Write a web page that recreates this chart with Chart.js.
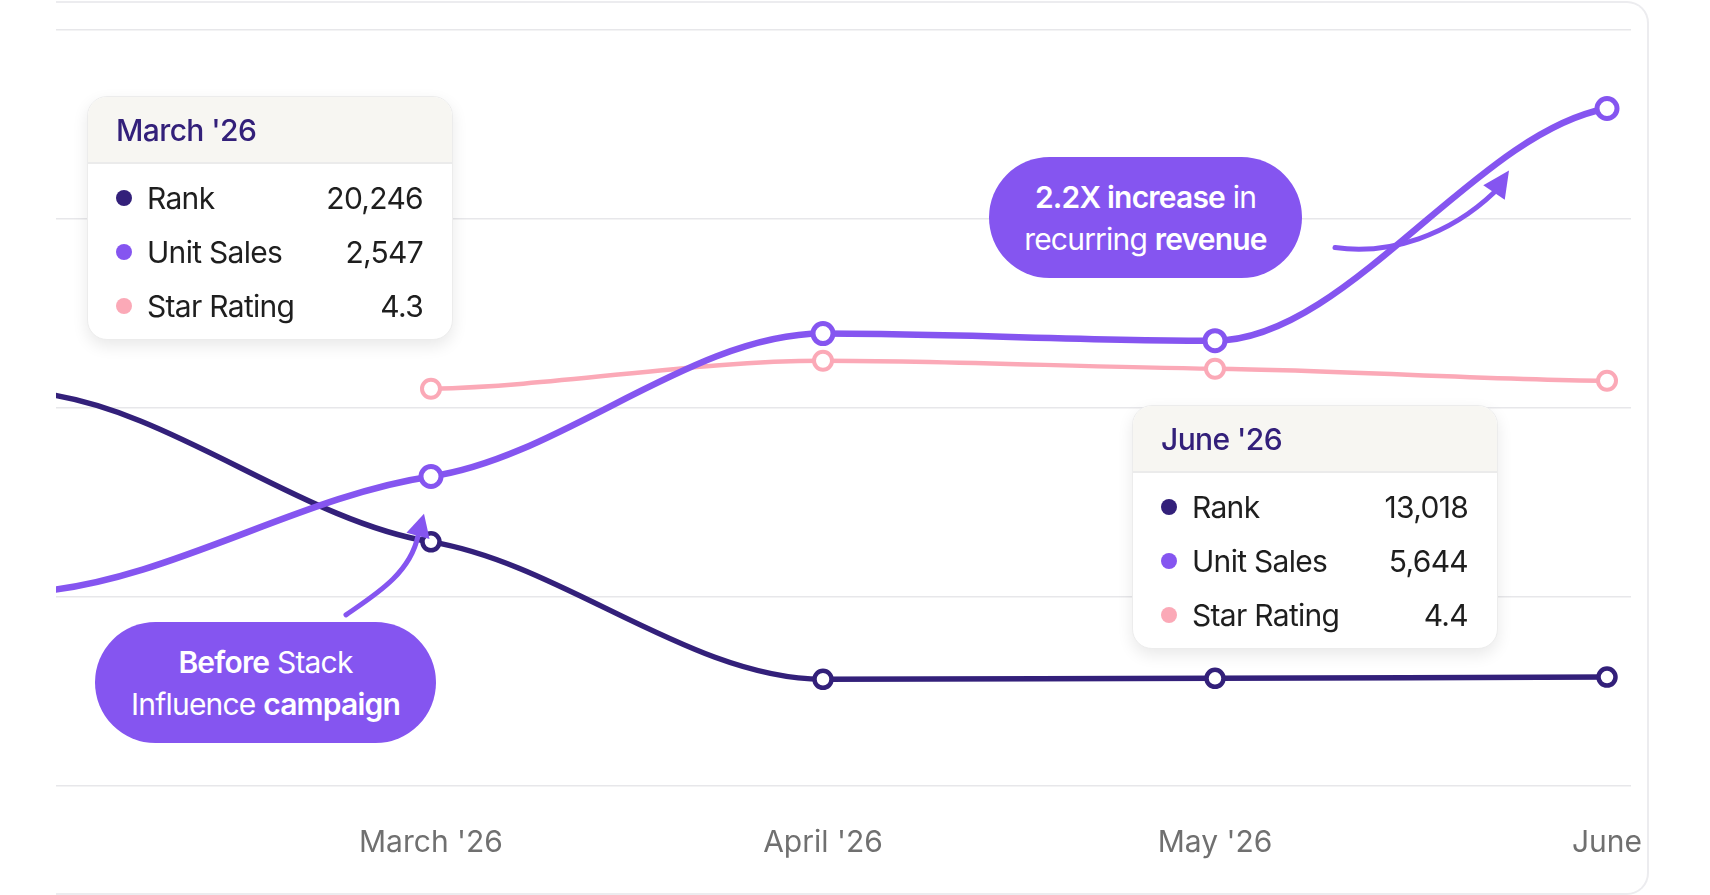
<!DOCTYPE html>
<html>
<head>
<meta charset="utf-8">
<script src="https://cdn.jsdelivr.net/npm/chart.js@4.4.1/dist/chart.umd.min.js"></script>
<style>
  html, body { margin: 0; padding: 0; width: 1710px; height: 895px; overflow: hidden; background: #fff; font-family: Inter, "Noto Sans", sans-serif; }
  .card { position: absolute; left: 56px; top: 1px; width: 1591px; height: 890px; border: 2px solid #ececef; border-left: none; border-radius: 0 22px 22px 0; }
  .clip { position: absolute; left: 56px; top: 0; width: 1592px; height: 895px; overflow: hidden; }
  #chart { position: absolute; left: 0; top: 0; }
  .tip { position: absolute; width: 366px; height: 244px; box-sizing: border-box; background: #fff; border: 1px solid #ececec; border-radius: 20px; box-shadow: 0 6px 16px rgba(0,0,0,0.09); overflow: hidden; }
  .tip-head { height: 67px; line-height: 67px; padding-left: 28px; background: #f7f6f2; border-bottom: 2px solid #ebebeb; color: #33207a; font-size: 30px; font-weight: 500; letter-spacing: -0.6px; box-sizing: border-box; }
  .tip-body { padding: 7px 29px 0 28px; }
  .row { display: flex; align-items: center; height: 54px; font-size: 30px; color: #1e1e1e; letter-spacing: -0.7px; }
  .dot { width: 16px; height: 16px; border-radius: 50%; margin-right: 15px; flex: none; }
  .row .val { margin-left: auto; }
  .pill { position: absolute; background: #8555f0; color: #fff; font-size: 30px; line-height: 42px; letter-spacing: -0.8px; text-align: center; display: flex; flex-direction: column; justify-content: center; }
  .pill b { font-weight: 600; }
</style>
</head>
<body>
<div class="card"></div>
<div class="clip"><canvas id="chart" width="1655" height="895"></canvas></div>

<div class="tip" id="tipMarch" style="left:87px; top:96px;"></div>
<div class="tip" id="tipJune" style="left:1132px; top:405px;"></div>

<div class="pill" style="left:95px; top:622px; width:341px; height:121px; border-radius:61px;">
  <div><b>Before</b> Stack</div>
  <div>Influence <b>campaign</b></div>
</div>
<div class="pill" style="left:989px; top:157px; width:313px; height:121px; border-radius:61px;">
  <div><b>2.2X increase</b> in</div>
  <div>recurring <b>revenue</b></div>
</div>

<script>
// data (Feb sits just left of the visible area)
const categories = ["Feb '26", "March '26", "April '26", "May '26", "June '26"];
const tickLabels = ["Feb '26", "March '26", "April '26", "May '26", "June"];
const rank = [28200, 20246, 12900, 12950, 13018];
const unitSales = [1580, 2547, 3750, 3690, 5644];
const starRating = [null, 4.32, 4.46, 4.42, 4.36];

const DARK = '#33207a';
const VIOLET = '#8555f0';
const PINK = '#fba9b7';

const seriesInfo = [
  { name: 'Rank', color: DARK, values: rank, fmt: v => v.toLocaleString('en-US') },
  { name: 'Unit Sales', color: VIOLET, values: unitSales, fmt: v => v.toLocaleString('en-US') },
  { name: 'Star Rating', color: PINK, values: starRating, fmt: v => v.toFixed(1) }
];

function fillTip(id, i) {
  let html = '<div class="tip-head">' + categories[i] + '</div><div class="tip-body">';
  seriesInfo.forEach(s => {
    html += '<div class="row"><span class="dot" style="background:' + s.color + '"></span>' +
            '<span>' + s.name + '</span><span class="val">' + s.fmt(s.values[i]) + '</span></div>';
  });
  html += '</div>';
  document.getElementById(id).innerHTML = html;
}
fillTip('tipMarch', 1);
fillTip('tipJune', 4);

const toXY = arr => arr.map((v, i) => ({ x: i, y: v }));

// softer curves: tangents flatter than chart.js defaults, flat at turning points
const MID_K = 0.45;
const END_K = 0.3;
const softCurve = {
  id: 'softCurve',
  beforeDatasetDraw(chart, args) {
    const line = args.meta.dataset;
    if (!line) return;
    line.updateControlPoints(chart.chartArea, 'x');
    const pts = line.points.filter(p => !p.skip);
    const n = pts.length;
    const slope = (i) => {
      const p = pts[i];
      if (i === 0) return END_K * (pts[1].y - p.y) / (pts[1].x - p.x);
      if (i === n - 1) return END_K * (p.y - pts[i - 1].y) / (p.x - pts[i - 1].x);
      const d0 = p.y - pts[i - 1].y, d1 = pts[i + 1].y - p.y;
      if (d0 * d1 <= 0) return 0;
      return MID_K * (pts[i + 1].y - pts[i - 1].y) / (pts[i + 1].x - pts[i - 1].x);
    };
    pts.forEach((p, i) => {
      const m = slope(i);
      if (i > 0) { const h = (p.x - pts[i - 1].x) / 3; p.cp1x = p.x - h; p.cp1y = p.y - m * h; }
      if (i < n - 1) { const h = (pts[i + 1].x - p.x) / 3; p.cp2x = p.x + h; p.cp2y = p.y + m * h; }
    });
    line._path = undefined;
  }
};

function drawArrow(c, o, pts, tip, headW) {
  const p = pts.map(d => [o.x + d[0], o.y + d[1]]);
  const t = [o.x + tip[0], o.y + tip[1]];
  c.save();
  c.strokeStyle = VIOLET;
  c.fillStyle = VIOLET;
  c.lineWidth = 5;
  c.lineCap = 'round';
  c.beginPath();
  c.moveTo(p[0][0], p[0][1]);
  c.bezierCurveTo(p[1][0], p[1][1], p[2][0], p[2][1], p[3][0], p[3][1]);
  c.stroke();
  const e = p[3];
  const dx = t[0] - e[0], dy = t[1] - e[1];
  const len = Math.hypot(dx, dy);
  const nx = -dy / len, ny = dx / len;
  c.beginPath();
  c.moveTo(t[0], t[1]);
  c.lineTo(e[0] + nx * headW / 2, e[1] + ny * headW / 2);
  c.lineTo(e[0] - nx * headW / 2, e[1] - ny * headW / 2);
  c.closePath();
  c.fill();
  c.restore();
}

const arrowPlugin = {
  id: 'arrows',
  afterDatasetsDraw(chart) {
    const c = chart.ctx;
    const x = chart.scales.x;
    const a = { x: x.getPixelForValue(1), y: chart.scales.yRank.getPixelForValue(rank[1]) };
    const b = { x: x.getPixelForValue(4), y: chart.scales.yUnits.getPixelForValue(unitSales[4]) };
    drawArrow(c, a, [[-85, 73], [-56, 53], [-21, 32], [-13, -6]], [-7, -28], 24);
    drawArrow(c, b, [[-272, 139], [-217, 147], [-157, 126], [-113, 84]], [-98, 62], 26);
  }
};

const line = (label, data, axis, color, width, r, bw, order) => ({
  label: label,
  data: toXY(data),
  yAxisID: axis,
  borderColor: color,
  borderWidth: width,
  pointRadius: r,
  pointBorderWidth: bw,
  pointBackgroundColor: '#fff',
  pointBorderColor: color,
  cubicInterpolationMode: 'monotone',
  order: order
});

new Chart(document.getElementById('chart').getContext('2d'), {
  type: 'line',
  data: {
    datasets: [
      line('Unit Sales', unitSales, 'yUnits', VIOLET, 6.5, 10, 5, 0),
      line('Rank', rank, 'yRank', DARK, 5.5, 8.5, 4.5, 1),
      line('Star Rating', starRating, 'yStar', PINK, 4.5, 9, 4, 2)
    ]
  },
  options: {
    responsive: false,
    animation: false,
    events: [],
    layout: { autoPadding: false, padding: { top: 30, right: 80, left: 0, bottom: 0 } },
    plugins: { legend: { display: false }, tooltip: { enabled: false } },
    scales: {
      x: {
        type: 'linear',
        min: 0.0434,
        max: 4.0612,
        grid: { display: false, drawTicks: false },
        border: { display: false },
        afterBuildTicks: s => { s.ticks = [1, 2, 3, 4].map(v => ({ value: v })); },
        afterFit: s => { s.height = 109; },
        ticks: {
          padding: 39,
          color: '#707070',
          font: { family: 'Inter', size: 30 },
          callback: v => tickLabels[v]
        }
      },
      yGrid: {
        position: 'left',
        min: 0,
        max: 4,
        ticks: { display: false, stepSize: 1 },
        grid: { color: '#e7e7ea', lineWidth: 1.5, drawTicks: false },
        border: { display: false },
        afterFit: s => { s.width = 0; }
      },
      yRank: { display: false, min: 7195, max: 47610 },
      yUnits: { display: false, min: -58, max: 6305 },
      yStar: { display: false, min: 2.335, max: 6.1125 }
    }
  },
  plugins: [softCurve, arrowPlugin]
});
</script>
</body>
</html>
